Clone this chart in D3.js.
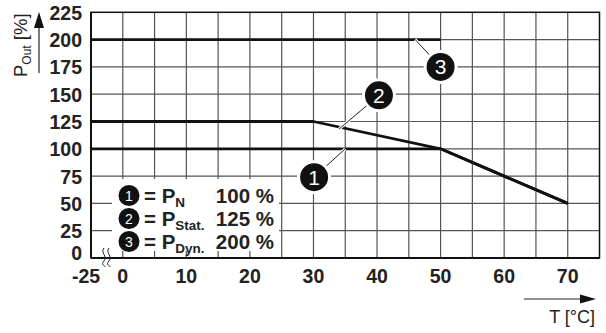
<!DOCTYPE html>
<html><head><meta charset="utf-8">
<script src="https://cdn.jsdelivr.net/npm/d3@7"></script>
<style>body{margin:0;background:#fff}svg{display:block}text{font-family:"Liberation Sans",Arial,sans-serif}</style>
</head><body>
<script>
const xTicks = [0,10,20,30,40,50,60,70];
const xGrid = [0,5,10,15,20,25,30,35,40,45,50,55,60,65,70];
const yTicks = [0,25,50,75,100,125,150,175,200,225];
const series1 = [[-5,100],[50,100],[70,50]];
const series2 = [[-5,125],[30,125],[50,100],[70,50]];
const series3 = [[-5,200],[50,200]];
const callouts = [
  {n:"1", at:[35,100], c:[30.1,74]},
  {n:"2", at:[34,118], c:[40.3,149]},
  {n:"3", at:[46,200], c:[50,175]}
];
const legendRows = [
  {n:"1", sub:"N", val:"100 %"},
  {n:"2", sub:"Stat.", val:"125 %"},
  {n:"3", sub:"Dyn.", val:"200 %"}
];

const W=606,H=333;
const svg=d3.select("body").append("svg").attr("width",W).attr("height",H);
const x=d3.scaleLinear().domain([-5,75]).range([91,599.5]);
const y=d3.scaleLinear().domain([0,225]).range([258,12.3]);

// grid
const g=svg.append("g");
g.selectAll(".vg").data(xGrid).join("line")
 .attr("x1",d=>x(d)).attr("x2",d=>x(d)).attr("y1",y(225)).attr("y2",y(0))
 .attr("stroke","#555").attr("stroke-width",1.2);
g.selectAll(".hg").data(yTicks.filter(d=>d>0&&d<225)).join("line")
 .attr("x1",x(-5)).attr("x2",x(75)).attr("y1",d=>y(d)).attr("y2",d=>y(d))
 .attr("stroke","#555").attr("stroke-width",1.2);

// legend box (white) covering grid
svg.append("rect").attr("x",112).attr("y",179).attr("width",167).attr("height",72).attr("fill","#fff");

// frame
svg.append("rect").attr("x",x(-5)).attr("y",y(225)).attr("width",x(75)-x(-5)).attr("height",y(0)-y(225))
 .attr("fill","none").attr("stroke","#111").attr("stroke-width",1.5);
svg.append("line").attr("x1",x(-5)).attr("x2",x(75)).attr("y1",y(0)).attr("y2",y(0)).attr("stroke","#111").attr("stroke-width",2.2);
svg.append("line").attr("x1",x(-5)).attr("x2",x(-5)).attr("y1",y(225)).attr("y2",y(0)).attr("stroke","#111").attr("stroke-width",2);

// data lines
const line=d3.line().x(d=>x(d[0])).y(d=>y(d[1]));
[series1,series2,series3].forEach(s=>{
  svg.append("path").attr("d",line(s)).attr("fill","none").attr("stroke","#111").attr("stroke-width",2.8).attr("stroke-linejoin","round");
});

// callouts
callouts.forEach(c=>{
  const cx=x(c.c[0]), cy=y(c.c[1]);
  const px=x(c.at[0]), py=y(c.at[1]);
  const ang=Math.atan2(py-cy,px-cx);
  svg.append("line").attr("x1",cx+Math.cos(ang)*14).attr("y1",cy+Math.sin(ang)*14).attr("x2",px).attr("y2",py)
   .attr("stroke","#fff").attr("stroke-width",3);
  svg.append("line").attr("x1",cx+Math.cos(ang)*14).attr("y1",cy+Math.sin(ang)*14).attr("x2",px).attr("y2",py)
   .attr("stroke","#222").attr("stroke-width",1);
  svg.append("circle").attr("cx",cx).attr("cy",cy).attr("r",15.5).attr("fill","#111").attr("stroke","#fff").attr("stroke-width",3);
  svg.append("text").attr("x",cx).attr("y",cy+7.5).attr("text-anchor","middle").attr("fill","#fff")
   .attr("font-size",21).text(c.n);
});

// y tick labels
svg.selectAll(".yl").data(yTicks).join("text")
 .attr("x",82).attr("y",d=>d===0?y(d)+2:y(d)+7.5).attr("text-anchor","end").attr("font-size",19.5).attr("font-weight","bold").attr("fill","#222")
 .text(d=>d);
// x tick labels
svg.selectAll(".xl").data(xTicks).join("text")
 .attr("x",d=>x(d)).attr("y",283).attr("text-anchor","middle").attr("font-size",19.5).attr("font-weight","bold").attr("fill","#222")
 .text(d=>d);
svg.append("text").attr("x",86).attr("y",283).attr("text-anchor","middle").attr("font-size",19.5).attr("font-weight","bold").attr("fill","#222").text("-25");

// axis break
[0,5].forEach(o=>{
  svg.append("path").attr("d",`M${104+o},248 C${100+o},253 ${108+o},256 ${104+o},261 C${100+o},265 ${106+o},266 ${105+o},267`)
   .attr("fill","none").attr("stroke","#222").attr("stroke-width",1);
});

// legend
legendRows.forEach((r,i)=>{
  const cy=195.5+i*23;
  svg.append("circle").attr("cx",129).attr("cy",cy).attr("r",10.5).attr("fill","#111");
  svg.append("text").attr("x",129).attr("y",cy+5).attr("text-anchor","middle").attr("fill","#fff").attr("font-size",14).text(r.n);
  const t=svg.append("text").attr("x",144).attr("y",cy+7.5).attr("font-size",20.5).attr("font-weight","bold").attr("fill","#222");
  t.append("tspan").text("= P");
  t.append("tspan").attr("dy",4).attr("font-size",13.5).text(r.sub);
  svg.append("text").attr("x",274).attr("y",cy+7.5).attr("text-anchor","end").attr("font-size",20.5).attr("font-weight","bold").attr("fill","#222").text(r.val);
});

// y axis label
const yl=svg.append("text").attr("transform","translate(27,77) rotate(-90)").attr("font-size",18.5).attr("fill","#222");
yl.append("tspan").text("P");
yl.append("tspan").attr("dy",4).attr("font-size",12).text("Out");
yl.append("tspan").attr("dy",-4).text(" [%]");
svg.append("line").attr("x1",39).attr("x2",39).attr("y1",73).attr("y2",24).attr("stroke","#222").attr("stroke-width",1.2);
svg.append("path").attr("d","M39,12 L34,28 L44,28 Z").attr("fill","#111");

// x axis label
svg.append("line").attr("x1",524).attr("x2",583).attr("y1",299).attr("y2",299).attr("stroke","#222").attr("stroke-width",1.2);
svg.append("path").attr("d","M596,299 L580,294.5 L580,303.5 Z").attr("fill","#111");
svg.append("text").attr("x",595).attr("y",323).attr("text-anchor","end").attr("font-size",18).attr("fill","#222").text("T [°C]");
</script>
</body></html>
